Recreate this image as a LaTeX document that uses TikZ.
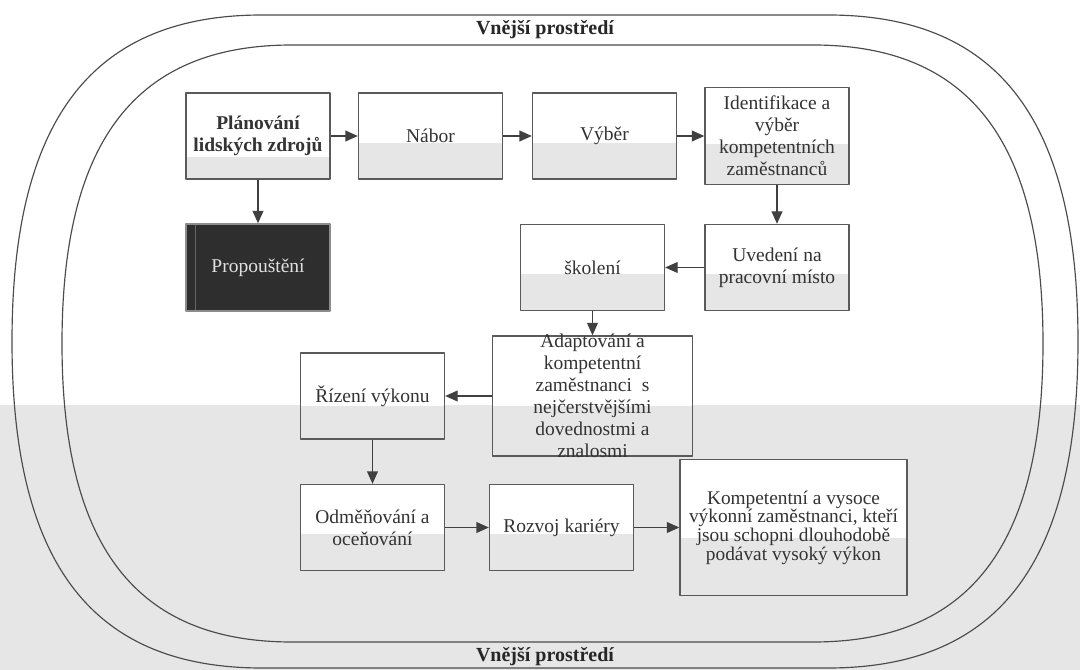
\documentclass[tikz,border=0pt]{standalone}
\usepackage{fontspec}
\setmainfont{Liberation Serif}
\usetikzlibrary{arrows.meta,calc}
\definecolor{lowgrey}{HTML}{E6E6E6}
\definecolor{boxline}{HTML}{5A5A5A}
\definecolor{txtgrey}{HTML}{333333}
\definecolor{darkfill}{HTML}{2E2E2E}
\begin{document}
\begin{tikzpicture}[x=0.6pt,y=-0.6pt,>={Triangle[length=7.5pt,width=6.5pt]},line join=round,font=\fontsize{11.7}{13.2}\selectfont]
	\tikzset{
		box/.style={draw=boxline,line width=0.8pt,fill=white,text=txtgrey,align=center,inner sep=0pt,
			minimum width=86.4pt,minimum height=51.6pt,
			path picture={\fill[lowgrey] (path picture bounding box.south west) rectangle
				($(path picture bounding box.north east)!#1!(path picture bounding box.south east)$);}},
		box/.default=0.58,
		darkbox/.style={draw=black!45,line width=0.8pt,fill=darkfill,text=black!12,inner sep=0pt,
			minimum width=86.4pt,minimum height=52.2pt,
			path picture={\draw[black!60,line width=0.6pt] ([xshift=5.4pt]path picture bounding box.south west)
				--([xshift=5.4pt]path picture bounding box.north west);}},
		conn/.style={->,draw=black!75,line width=0.8pt},
		rim/.style={draw=black!70,line width=0.7pt},
		title/.style={font=\fontsize{12}{13}\selectfont\bfseries,text=black!85}
	}
	\useasboundingbox (0,0) rectangle (1080,670);
	\fill[white] (0,0) rectangle (1080,670);
	\fill[lowgrey] (0,405) rectangle (1080,670);
	% outer and inner ring
	\draw[rim] (262,15)--(828,15) .. controls (998,15) and (1078,119.5) .. (1078,341.5)
		.. controls (1078,563.5) and (998,668) .. (828,668)--(262,668)
		.. controls (92,668) and (12,563.5) .. (12,341.5)
		.. controls (12,119.5) and (92,15) .. (262,15)--cycle;
	\draw[rim] (292,45)--(813,45) .. controls (969,45) and (1043,140.5) .. (1043,343.5)
		.. controls (1043,546.5) and (969,642) .. (813,642)--(292,642)
		.. controls (136,642) and (62,546.5) .. (62,343.5)
		.. controls (62,140.5) and (136,45) .. (292,45)--cycle;
	\node[title] (ttop) at (545,30) {Vnější prostředí};
	\node[title] (tbot) at (545,657) {Vnější prostředí};
	% boxes
	\node[box=0.74,font=\fontsize{11.7}{13.2}\selectfont\bfseries] (plan) at (258,136) {Plánování\\lidských zdrojů};
	\node[box] (nabor) at (430.5,136) {Nábor};
	\node[box] (vyber) at (604.5,136) {Výběr};
	\node[box,minimum height=58.2pt] (ident) at (777,136) {Identifikace a\\výběr\\kompetentních\\zaměstnanců};
	\node[darkbox] (prop) at (258,267.5) {Propouštění};
	\node[box] (skol) at (592.5,267.5) {školení};
	\node[box] (uved) at (777,267.5) {Uvedení na\\pracovní místo};
	\node[box=0.62] (riz) at (372.5,396) {Řízení výkonu};
	\node[box,minimum width=120pt,minimum height=72pt,
		label={[text=txtgrey,align=center]center:{Adaptování a\\kompetentní\\zaměstnanci~ s\\nejčerstvějšími\\dovednostmi a\\znalosmi}}] (adapt) at (592.5,396) {};
	\node[box] (odm) at (372.5,527.5) {Odměňování a\\oceňování};
	\node[box] (rozv) at (561.5,527.5) {Rozvoj kariéry};
	\node[box,minimum width=136.2pt,minimum height=81.6pt,font=\fontsize{11.6}{11.2}\selectfont] (komp) at (793.5,527.5)
		{Kompetentní a vysoce\\výkonní zaměstnanci, kteří\\jsou schopni dlouhodobě\\podávat vysoký výkon};
	% connectors
	\foreach \a/\b in {plan/nabor,nabor/vyber,vyber/ident,plan/prop,ident/uved,uved/skol,skol/adapt,adapt/riz,riz/odm,odm/rozv,rozv/komp}{
		\draw[conn] (\a)--(\b);
	}
\end{tikzpicture}
\end{document}
